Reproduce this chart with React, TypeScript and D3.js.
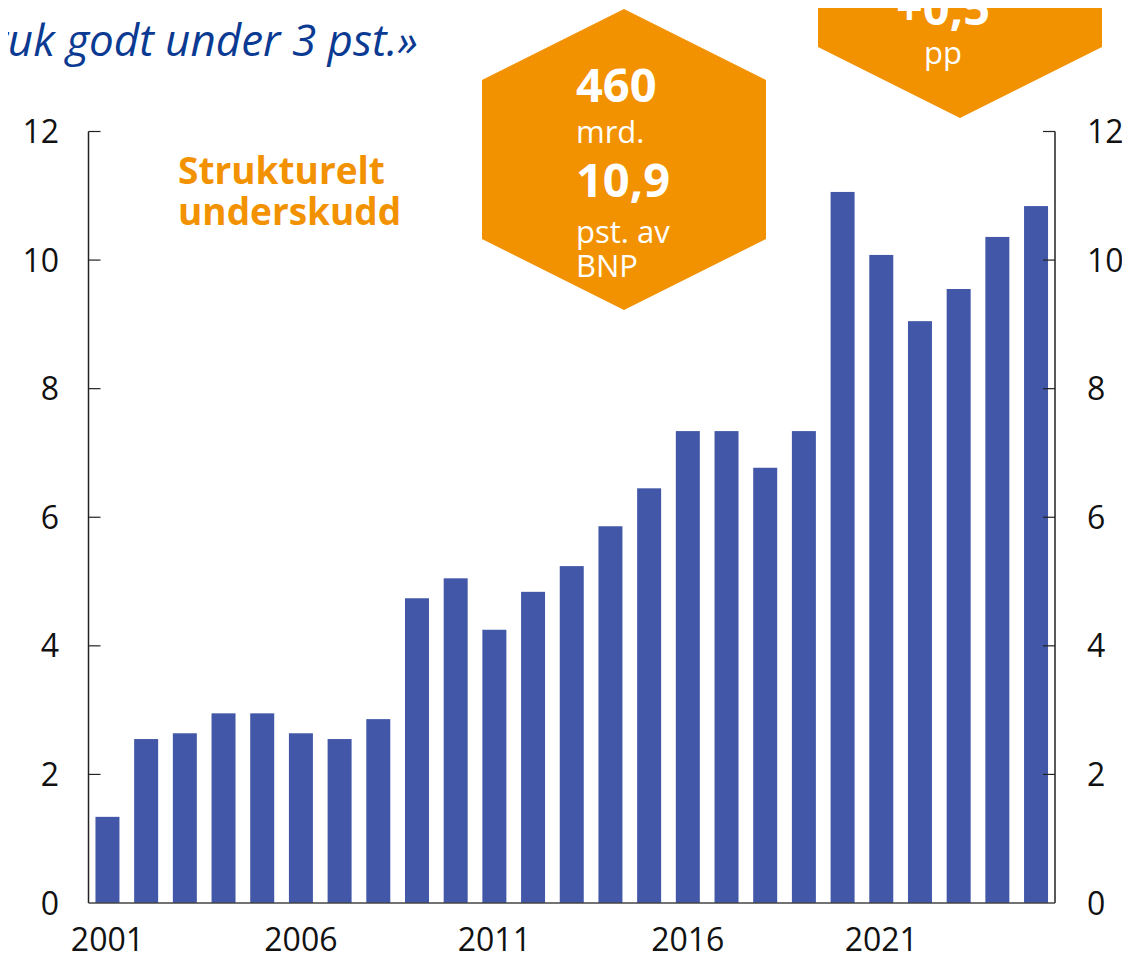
import React from "react";
import * as d3 from "d3";

const years: number[] = [2001,2002,2003,2004,2005,2006,2007,2008,2009,2010,2011,2012,2013,2014,2015,2016,2017,2018,2019,2020,2021,2022,2023,2024,2025];
const deficit: number[] = [1.34,2.55,2.64,2.95,2.95,2.64,2.55,2.86,4.74,5.05,4.25,4.84,5.24,5.86,6.45,7.34,7.34,6.77,7.34,11.06,10.08,9.05,9.55,10.36,10.84];
const yTicks: number[] = [0,2,4,6,8,10,12];
const xLabels: number[] = [2001,2006,2011,2016,2021];
const titleText = "«Oljepengebruk godt under 3 pst.»";
const seriesLabel: string[] = ["Strukturelt", "underskudd"];
const hexLines = [
  { t: "460", bold: true },
  { t: "mrd.", bold: false },
  { t: "10,9", bold: true },
  { t: "pst. av", bold: false },
  { t: "BNP", bold: false },
];
const changeLines = [
  { t: "+0,5", bold: true },
  { t: "pp", bold: false },
];

const ORANGE = "#F39200";
const BLUE = "#4257A8";
const FONT = "'Open Sans', 'Noto Sans', sans-serif";

export default function App() {
  const W = 1130, H = 960;
  const left = 88.5, right = 1055, top = 131.5, bottom = 903;
  const x = d3.scaleBand<number>().domain(years).range([left, right]).paddingInner(0.38).paddingOuter(0.18);
  const y = d3.scaleLinear().domain([0, 12]).range([bottom, top]);

  const hex = "M624,9 L766,80 L766,239 L624,310 L482,239 L482,80 Z";
  const pent = "M818,-20 L1102,-20 L1102,47 L960,118 L818,47 Z";
  const hexY = [102, 143, 197, 243, 277];
  const hexSize = [47, 31, 47, 31, 31];

  return (
    <div style={{ margin: -8 }}>
      <svg width={W} height={H} style={{ display: "block", fontFamily: FONT }}>
        <rect width={W} height={H} fill="#fff" />
        <text x={418} y={56} textAnchor="end" fontStyle="italic" fontSize={44} fill="#0B3A92">{titleText}</text>

        {years.map((yr, i) => (
          <rect key={yr} x={x(yr)} y={y(deficit[i])} width={x.bandwidth()} height={y(0) - y(deficit[i])} fill={BLUE} />
        ))}

        <line x1={left} x2={left} y1={top} y2={bottom} stroke="#222" strokeWidth={1.5} />
        <line x1={right} x2={right} y1={top} y2={bottom} stroke="#222" strokeWidth={1.5} />
        <line x1={left} x2={right} y1={bottom} y2={bottom} stroke="#444" strokeWidth={1.5} />
        {yTicks.map((t) => (
          <g key={t}>
            {t > 0 && <line x1={left} x2={left + 12} y1={y(t)} y2={y(t)} stroke="#222" strokeWidth={1.2} />}
            {t > 0 && <line x1={right - 12} x2={right} y1={y(t)} y2={y(t)} stroke="#222" strokeWidth={1.2} />}
            <text x={59} y={y(t)} dy="0.36em" textAnchor="end" fontSize={32} fill="#111">{t}</text>
            <text x={1087} y={y(t)} dy="0.36em" textAnchor="start" fontSize={32} fill="#111">{t}</text>
          </g>
        ))}
        {xLabels.map((yr) => (
          <text key={yr} x={(x(yr) as number) + x.bandwidth() / 2} y={951} textAnchor="middle" fontSize={32} fill="#111">{yr}</text>
        ))}

        {seriesLabel.map((s, i) => (
          <text key={s} x={178} y={184 + i * 41} fontWeight={700} fontSize={37} fill={ORANGE}>{s}</text>
        ))}

        <path d={hex} fill={ORANGE} />
        {hexLines.map((l, i) => (
          <text key={i} x={576} y={hexY[i]} fontWeight={l.bold ? 700 : 400} fontSize={hexSize[i]} fill="#fff">{l.t}</text>
        ))}

        <path d={pent} fill={ORANGE} />
        {changeLines.map((l, i) => (
          <text key={i} x={943} y={i === 0 ? 25 : 64} textAnchor="middle" fontWeight={l.bold ? 700 : 400} fontSize={l.bold ? 47 : 31} fill="#fff">{l.t}</text>
        ))}
      </svg>
    </div>
  );
}
